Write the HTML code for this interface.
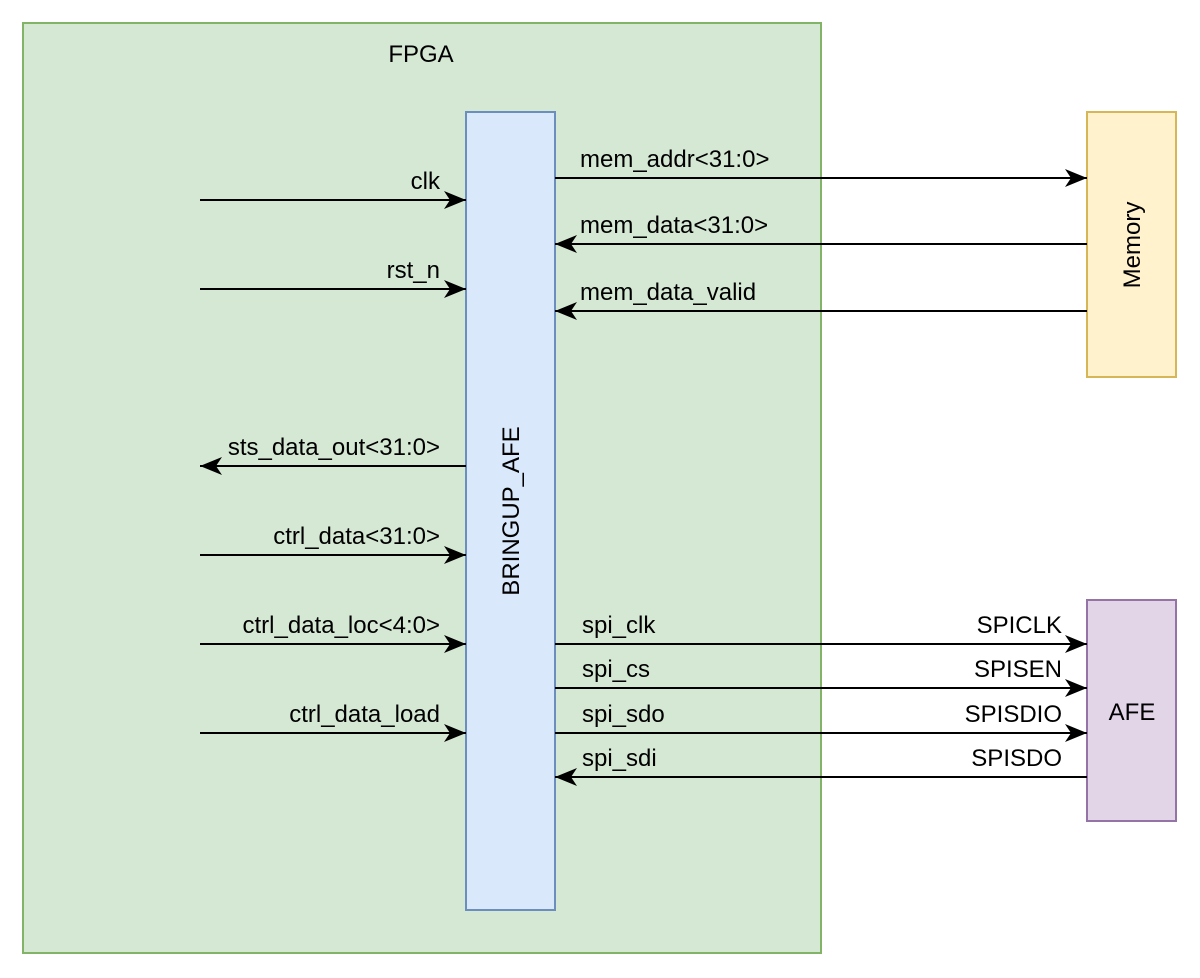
<!DOCTYPE html>
<html><head><style>body{margin:0;background:#fff}svg{display:block}</style></head><body>
<svg width="1200" height="978" viewBox="0 0 1200 978" xmlns="http://www.w3.org/2000/svg" font-family="Liberation Sans, Arial, sans-serif" font-size="24">
<defs>
<marker id="a" markerUnits="userSpaceOnUse" markerWidth="26" markerHeight="22" refX="22" refY="11" orient="auto">
<path d="M0,2 L22,11 L0,20 L6,11 Z" fill="#000"/>
</marker>
</defs>
<rect x="23" y="23" width="798" height="930" fill="#d5e8d4" stroke="#82b366" stroke-width="2"/>
<text x="421" y="62" text-anchor="middle">FPGA</text>
<rect x="466" y="112" width="89" height="798" fill="#dae8fc" stroke="#6c8ebf" stroke-width="2"/>
<text transform="translate(519,511) rotate(-90)" text-anchor="middle">BRINGUP_AFE</text>
<rect x="1087" y="112" width="89" height="265" fill="#fff2cc" stroke="#d6b656" stroke-width="2"/>
<text transform="translate(1140,245) rotate(-90)" text-anchor="middle">Memory</text>
<rect x="1087" y="600" width="89" height="221" fill="#e1d5e7" stroke="#9673a6" stroke-width="2"/>
<text x="1132" y="720" text-anchor="middle">AFE</text>
<g stroke="#000" stroke-width="2" fill="none" marker-end="url(#a)">
<line x1="200" y1="200" x2="466" y2="200"/>
<line x1="200" y1="289" x2="466" y2="289"/>
<line x1="466" y1="466" x2="200" y2="466"/>
<line x1="200" y1="555" x2="466" y2="555"/>
<line x1="200" y1="644" x2="466" y2="644"/>
<line x1="200" y1="733" x2="466" y2="733"/>
<line x1="555" y1="178" x2="1087" y2="178"/>
<line x1="1087" y1="244" x2="555" y2="244"/>
<line x1="1087" y1="311" x2="555" y2="311"/>
<line x1="555" y1="644" x2="1087" y2="644"/>
<line x1="555" y1="688" x2="1087" y2="688"/>
<line x1="555" y1="733" x2="1087" y2="733"/>
<line x1="1087" y1="777" x2="555" y2="777"/>
</g>
<g text-anchor="end">
<text x="440" y="189">clk</text>
<text x="440" y="278">rst_n</text>
<text x="440" y="455">sts_data_out&lt;31:0&gt;</text>
<text x="440" y="544">ctrl_data&lt;31:0&gt;</text>
<text x="440" y="633">ctrl_data_loc&lt;4:0&gt;</text>
<text x="440" y="722">ctrl_data_load</text>
<text x="1062" y="633">SPICLK</text>
<text x="1062" y="677">SPISEN</text>
<text x="1062" y="722">SPISDIO</text>
<text x="1062" y="766">SPISDO</text>
</g>
<text x="580" y="167">mem_addr&lt;31:0&gt;</text>
<text x="580" y="233">mem_data&lt;31:0&gt;</text>
<text x="580" y="300">mem_data_valid</text>
<text x="582" y="633">spi_clk</text>
<text x="582" y="677">spi_cs</text>
<text x="582" y="722">spi_sdo</text>
<text x="582" y="766">spi_sdi</text>
</svg>
</body></html>
